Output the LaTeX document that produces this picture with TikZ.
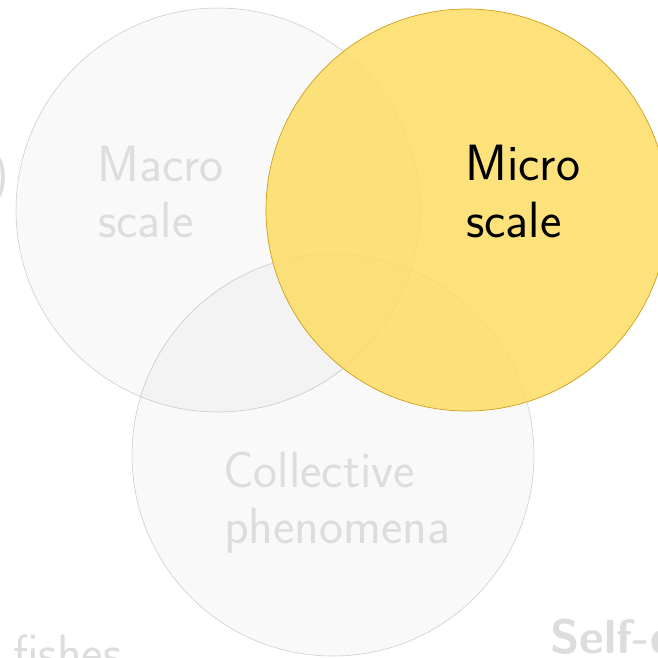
\documentclass[tikz,border=0pt]{standalone}
\usepackage{fontspec}
\definecolor{fadetext}{RGB}{221,221,221}
\definecolor{microfill}{RGB}{253,220,99}
\definecolor{microline}{RGB}{205,160,30}
\tikzset{
  bigtext/.style={font=\sffamily\fontsize{51}{61}\selectfont, inner sep=0pt, anchor=base west},
  fadelabel/.style={bigtext, text=fadetext},
  fadecircle/.style={fill=black, fill opacity=0.025, draw=black, draw opacity=0.18, line width=0.6pt},
  microcircle/.style={fill=microfill, fill opacity=0.85, draw=microline, line width=0.7pt}
}
\begin{document}
\begin{tikzpicture}[x=1pt,y=1pt]
\useasboundingbox (0,0) rectangle (658,-657);
\fill[white] (0,0) rectangle (658,-657);
% faded circles first, the yellow one over them
\path[fadecircle] (218,-210) circle (202);
\path[fadecircle] (333,-455) circle (201);
\path[microcircle] (467,-210) circle (201);
% labels
\node[fadelabel] (paren) at (-10,-190) {)};
\node[fadelabel] (macroA) at (97,-181) {Macro};
\node[fadelabel] (macroB) at (98,-237) {scale};
\node[bigtext, text=black] (microA) at (465,-180) {Micro};
\node[bigtext, text=black] (microB) at (466,-237) {scale};
\node[fadelabel] (collA) at (223,-487) {Collective};
\node[fadelabel] (collB) at (224,-543) {phenomena};
\node[fadelabel] (fishes) at (13,-670) {fishes};
\node[fadelabel, font=\sffamily\bfseries\fontsize{48}{58}\selectfont] (selfc) at (550,-653) {Self-organization};
\end{tikzpicture}
\end{document}
